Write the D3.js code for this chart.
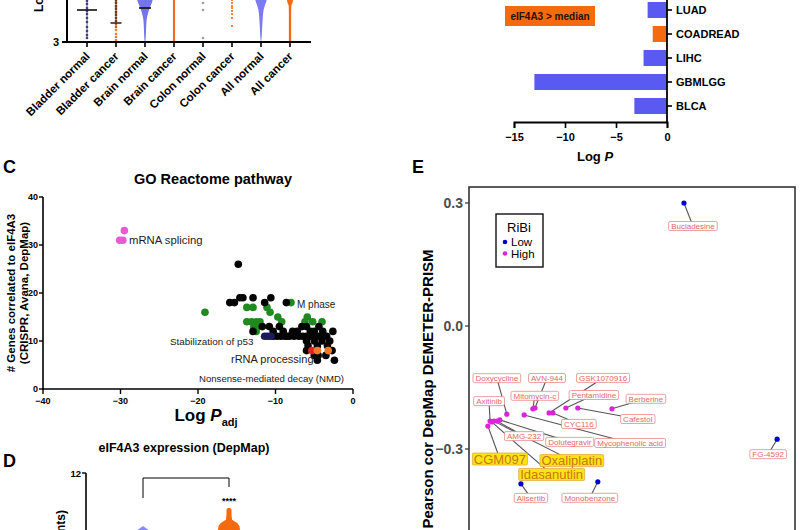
<!DOCTYPE html>
<html><head><meta charset="utf-8">
<script src="https://cdn.jsdelivr.net/npm/d3@7"></script>
<style>
body{margin:0;background:#fff}
svg{display:block}
text{font-family:"Liberation Sans",Arial,Helvetica,sans-serif}
</style></head>
<body><svg id="c" width="800" height="530"></svg>
<script>
// ---------- DATA ----------
// Panel A
const groupsA = ["Bladder normal","Bladder cancer","Brain normal","Brain cancer","Colon normal","Colon cancer","All normal","All cancer"];
const bladderNormalDots = [5.05,4.9,4.7,4.55,4.4,4.2,4.0,3.75,3.55,3.35,3.2];
const bladderCancerDarkDots = [5.1,4.95,4.8,4.65,4.5,4.35,4.2,4.05];
const bladderCancerOrangeDots = [5.0,4.75,4.45,3.9,3.75,3.6,3.4,3.25,3.1];
const brainCancerDots = [5.1,5.0,4.9,4.8,4.7,4.6,4.5,4.4,4.3,4.2,4.1,4.0,3.9,3.8,3.7,3.6,3.5,3.4,3.3,3.2,3.1];
const colonNormalDots = [4.95,4.6,3.2];
const colonCancerDots = [5.1,4.95,4.8,4.7,4.55,4.4,4.2,3.8];
const brainNormalDensity = [[5.6,1.0],[5.1,0.95],[4.85,0.75],[4.6,0.5],[4.35,0.32],[4.1,0.2],[3.6,0.13],[3.1,0.07],[3.0,0.03]];
const allNormalDensity = [[5.6,0.75],[5.1,0.7],[4.85,0.5],[4.6,0.32],[4.1,0.2],[3.6,0.13],[3.05,0.04],[3.0,0.02]];
const allCancerDensity = [[5.6,0.4],[5.1,0.38],[4.95,0.3],[4.8,0.16],[4.3,0.14],[3.6,0.14],[3.0,0.14]];
const meansA = [["Bladder normal",4.6],["Bladder cancer",3.95],["Brain normal",4.7]];

// Panel B
const categoriesB = ["LUAD","COADREAD","LIHC","GBMLGG","BLCA"];
const logPB = [-1.9,-1.4,-2.3,-13.0,-3.2];
const aboveMedianB = ["COADREAD"];
const ticksB = [-15,-10,-5,0];

// Panel C
const blackC = [[-14.8,26],[-15.9,18],[-15.3,18],[-14.6,19],[-14.2,19],[-12.9,19],[-11.4,18],[-10.6,19],[-8.6,18],
 [-12.9,12],[-11.7,13],[-10.8,13],[-10.3,12],[-9.5,13],[-9.0,12],[-8.5,11],[-7.8,12],[-7.2,12],[-6.6,13],[-6.0,13],
 [-5.5,12],[-5.0,12],[-4.4,13],[-3.9,12],[-3.4,11],[-2.6,12],
 [-10.3,11],[-9.8,11],[-9.3,11],[-8.8,11],[-8.2,11],[-7.6,11],[-7.0,11],[-6.5,11],[-6.0,11],[-5.5,11],[-5.0,11],[-4.5,11],[-4.0,11],
 [-6.0,10],[-5.0,10],[-4.0,10],[-3.0,10],[-5.8,9],[-4.6,9],[-3.3,9],[-6.0,8],[-2.7,8],[-5.0,7],[-4.5,7],[-3.5,7],[-4.6,6],[-2.4,6]];
const navyC = [[-11.4,11],[-11.0,11],[-10.6,11]];
const greenC = [[-19.1,16],[-13.7,17],[-12.9,17],[-11.1,17],[-10.7,16],[-9.7,15],[-9.2,14],[-13.7,14],[-13.1,14],[-12.5,14],
 [-12.0,14],[-12.8,13],[-12.3,13],[-5.9,15],[-6.2,14],[-5.2,14],[-4.0,14],[-8.0,18],[-12.5,12]];
const redC = [[-5.3,8]];
const orangeC = [[-4.6,8],[-3.2,8]];
const pinkC = [[-29.5,33],[-30.1,31],[-29.7,31]];
const ticksCx = [-40,-30,-20,-10,0];
const ticksCy = [0,10,20,30,40];
const pathwayLabels = ["mRNA splicing","M phase","Stabilization of p53","rRNA processing","Nonsense-mediated decay (NMD)"];

// Panel D
const groupsD = ["Normal","Cancer"];
const normalDensityD = [[6.1,0.0],[5.9,0.25],[5.67,0.5],[5.3,0.7],[5.0,0.75]];
const cancerDensityD = [[8.15,0.0],[8.05,0.18],[7.9,0.23],[7.3,0.23],[6.8,0.28],[6.45,0.75],[6.1,0.95],[5.67,1.0],[5.0,1.05]];

// Panel E
const drugsE = ["Bucladesine","FG-4592","Alisertib","Monobenzone","Doxycycline","Axitinib","Mitomycin-c","AVN-944","GSK1070916",
 "CYC116","Pentamidine","Berberine","Cafestol","Dolutegravir","Mycophenolic acid","AMG-232","CGM097","Idasanutlin","Oxaliplatin"];
const xE = [0.095,0.267,-0.206,-0.064,-0.232,-0.263,-0.184,-0.18,-0.154,-0.147,-0.123,-0.038,-0.101,-0.245,-0.2,-0.25,-0.267,-0.26,-0.256];
const yE = [0.30,-0.276,-0.385,-0.38,-0.215,-0.232,-0.202,-0.20,-0.212,-0.212,-0.20,-0.202,-0.20,-0.229,-0.217,-0.232,-0.244,-0.234,-0.232];
const ribiE = ["Low","Low","Low","Low","High","High","High","High","High","High","High","High","High","High","High","High","High","High","High"];
const highlightE = ["CGM097","Oxaliplatin","Idasanutlin"];
const ticksE = [-0.3,0.0,0.3];

// ---------- LAYOUT ----------
const svg = d3.select("#c");
const FONT = '"Liberation Sans",Arial,sans-serif';
function txt(g,x,y,s,o={}){
  const t=g.append("text").attr("x",x).attr("y",y).text(s)
   .attr("font-size",o.size||11).attr("font-weight",o.weight||"normal")
   .attr("fill",o.fill||"#000").attr("text-anchor",o.anchor||"start");
  if(o.rot!==undefined) t.attr("transform",`rotate(${o.rot},${x},${y})`);
  if(o.style) t.attr("font-style",o.style);
  return t;
}

// ===== Panel A =====
(function(){
  const g = svg.append("g");
  const x = d3.scalePoint().domain(groupsA).range([87,290]);
  const y = d3.scaleLinear().domain([3,8]).range([42,-58]);
  const w = d3.scaleLinear().domain([0,1]).range([0,8]);
  const area = cx => d3.area().curve(d3.curveMonotoneY).y(d=>y(d[0])).x0(d=>cx-w(d[1])).x1(d=>cx+w(d[1]));
  g.append("path").datum(brainNormalDensity).attr("d",area(x("Brain normal"))).attr("fill","#7474f0");
  g.append("path").datum(allNormalDensity).attr("d",area(x("All normal"))).attr("fill","#7a7af2");
  g.append("path").datum(allCancerDensity).attr("d",area(x("All cancer"))).attr("fill","#f26a12");
  const dots=(arr,grp,col,r)=>g.selectAll(null).data(arr).enter().append("circle")
     .attr("cx",x(grp)).attr("cy",d=>y(d)).attr("r",r||1.3).attr("fill",col);
  dots(bladderNormalDots,"Bladder normal","#40407e");
  dots(bladderCancerOrangeDots,"Bladder cancer","#f07a30");
  dots(bladderCancerDarkDots,"Bladder cancer","#6b3b1f");
  dots(brainCancerDots,"Brain cancer","#f0691e",1.2);
  dots(colonNormalDots,"Colon normal","#a0a0a0");
  dots(colonCancerDots,"Colon cancer","#f0691e",1.1);
  g.append("line").attr("x1",x("Bladder normal")).attr("x2",x("Bladder normal")).attr("y1",y(5.1)).attr("y2",y(3.2)).attr("stroke","#40407e").attr("stroke-width",0.8);
  g.append("line").attr("x1",x("Bladder cancer")).attr("x2",x("Bladder cancer")).attr("y1",y(5.1)).attr("y2",y(3.7)).attr("stroke","#6b3b1f").attr("stroke-width",0.8);
  const mw={"Bladder normal":10,"Bladder cancer":5.5,"Brain normal":6};
  const mc={"Bladder normal":"#111","Bladder cancer":"#4a2410","Brain normal":"#111"};
  meansA.forEach(([grp,v])=>{
    g.append("line").attr("x1",x(grp)-mw[grp]).attr("x2",x(grp)+mw[grp]).attr("y1",y(v)).attr("y2",y(v)).attr("stroke",mc[grp]).attr("stroke-width",1.6);
  });
  // axes
  g.append("line").attr("x1",67).attr("x2",67).attr("y1",-5).attr("y2",42).attr("stroke","#000").attr("stroke-width",2);
  g.append("line").attr("x1",66).attr("x2",311).attr("y1",42).attr("y2",42).attr("stroke","#000").attr("stroke-width",2);
  g.append("line").attr("x1",62).attr("x2",67).attr("y1",y(3)).attr("y2",y(3)).attr("stroke","#000").attr("stroke-width",2);
  txt(g,59,y(3)+4,"3",{size:11,weight:"bold",anchor:"end"});
  txt(g,43,12,"Log2 (TPM+1)",{size:12,weight:"bold",rot:-90});
  groupsA.forEach(c=>{
    g.append("line").attr("x1",x(c)).attr("x2",x(c)).attr("y1",42).attr("y2",47).attr("stroke","#000").attr("stroke-width",1.6);
    txt(g,x(c)+3.5,57,c,{size:11.5,weight:"bold",anchor:"end",rot:-45});
  });
})();

// ===== Panel B =====
(function(){
  const g = svg.append("g");
  const x = d3.scaleLinear().domain([-15,0]).range([514,667]);
  const y = d3.scalePoint().domain(categoriesB).range([-2,118]).padding(0.5);
  const bh=16;
  g.selectAll(null).data(categoriesB).enter().append("rect")
    .attr("x",(d,i)=>x(logPB[i])).attr("width",(d,i)=>x(0)-x(logPB[i]))
    .attr("y",d=>y(d)-bh/2).attr("height",bh)
    .attr("fill",d=>aboveMedianB.includes(d)?"#f5690f":"#5a5af2");
  const ax = g.append("g").attr("transform","translate(0,122)")
    .call(d3.axisBottom(x).tickValues(ticksB).tickSizeOuter(0).tickSize(6));
  ax.select(".domain").attr("stroke-width",1.8);
  ax.selectAll(".tick line").attr("stroke-width",1.6);
  ax.selectAll("text").attr("font-size",11).attr("font-weight","bold").attr("font-family",FONT).attr("fill","#000").attr("dy","0.95em");
  g.append("line").attr("x1",667).attr("x2",667).attr("y1",-5).attr("y2",123).attr("stroke","#000").attr("stroke-width",1.8);
  categoriesB.forEach(c=>{
    g.append("line").attr("x1",667).attr("x2",672).attr("y1",y(c)).attr("y2",y(c)).attr("stroke","#000").attr("stroke-width",1.6);
    txt(g,676,y(c)+4,c,{size:11,weight:"bold"});
  });
  g.append("rect").attr("x",505).attr("y",6).attr("width",90).attr("height",20).attr("fill","#f5690f");
  txt(g,550,20,"eIF4A3 > median",{size:10,weight:"bold",anchor:"middle",fill:"#2a1205"});
  const t=g.append("text").attr("x",595).attr("y",161).attr("text-anchor","middle").attr("font-size",13).attr("font-weight","bold");
  t.append("tspan").text("Log ");
  t.append("tspan").attr("font-style","italic").text("P");
})();

// ===== Panel C =====
(function(){
  const g = svg.append("g");
  const x = d3.scaleLinear().domain([-40,0]).range([43,353]);
  const y = d3.scaleLinear().domain([0,40]).range([389,197]);
  txt(g,3,173,"C",{size:18,weight:"bold"});
  txt(g,213,184,"GO Reactome pathway",{size:14.5,weight:"bold",anchor:"middle"});
  const pts=(arr,col)=>g.selectAll(null).data(arr).enter().append("circle")
    .attr("cx",d=>x(d[0])).attr("cy",d=>y(d[1])).attr("r",3.8).attr("fill",col);
  pts(greenC,"#1f8a1f");
  pts(blackC,"#050505");
  pts(navyC,"#1c1c5c");
  pts(pinkC,"#e85ad2");
  pts(redC,"#e3241c");
  pts(orangeC,"#f07a2a");
  // axes
  g.append("line").attr("x1",43).attr("x2",43).attr("y1",197).attr("y2",390).attr("stroke","#000").attr("stroke-width",1.6);
  g.append("line").attr("x1",42).attr("x2",353).attr("y1",389).attr("y2",389).attr("stroke","#000").attr("stroke-width",1.6);
  ticksCy.forEach(v=>{
    g.append("line").attr("x1",39).attr("x2",43).attr("y1",y(v)).attr("y2",y(v)).attr("stroke","#000").attr("stroke-width",1.4);
    txt(g,38,y(v)+3,String(v),{size:9,weight:"bold",anchor:"end"});
  });
  ticksCx.forEach(v=>{
    g.append("line").attr("x1",x(v)).attr("x2",x(v)).attr("y1",389).attr("y2",394).attr("stroke","#000").attr("stroke-width",1.4);
    txt(g,x(v),404,d3.format("d")(v),{size:9,weight:"bold",anchor:"middle"});
  });
  const xl=g.append("text").attr("x",206).attr("y",421).attr("text-anchor","middle").attr("font-size",17).attr("font-weight","bold");
  xl.append("tspan").text("Log ");
  xl.append("tspan").attr("font-style","italic").text("P");
  xl.append("tspan").attr("font-size",11).attr("dy",5).text("adj");
  txt(g,15,293,"# Genes correlated to eIF4A3",{size:11.5,weight:"bold",anchor:"middle",rot:-90});
  txt(g,28,293,"(CRISPR, Avana, DepMap)",{size:11.5,weight:"bold",anchor:"middle",rot:-90});
  // pathway labels
  txt(g,129,244,pathwayLabels[0],{size:11.3,fill:"#222"});
  txt(g,297,308,pathwayLabels[1],{size:10,fill:"#222"});
  txt(g,170,345,pathwayLabels[2],{size:9.9,fill:"#222"});
  txt(g,231,363,pathwayLabels[3],{size:11,fill:"#222"});
  txt(g,199,382,pathwayLabels[4],{size:9.6,fill:"#222"});
})();

// ===== Panel D =====
(function(){
  const g = svg.append("g");
  const x = d3.scalePoint().domain(groupsD).range([143,229]);
  const y = d3.scaleLinear().domain([0,12]).range([581,473]);
  const w = d3.scaleLinear().domain([0,1]).range([0,11]);
  txt(g,3,467,"D",{size:18,weight:"bold"});
  txt(g,184,452,"eIF4A3 expression (DepMap)",{size:12.5,weight:"bold",anchor:"middle"});
  const area = cx => d3.area().curve(d3.curveLinear).y(d=>y(d[0])).x0(d=>cx-w(d[1])).x1(d=>cx+w(d[1]));
  g.append("path").datum(normalDensityD).attr("d",area(x("Normal"))).attr("fill","#8a8af2");
  g.append("path").datum(cancerDensityD).attr("d",area(x("Cancer"))).attr("fill","#f5690f");
  g.append("line").attr("x1",86).attr("x2",86).attr("y1",473).attr("y2",535).attr("stroke","#000").attr("stroke-width",1.6);
  g.append("line").attr("x1",82).attr("x2",86).attr("y1",y(12)).attr("y2",y(12)).attr("stroke","#000").attr("stroke-width",1.4);
  txt(g,81,y(12)+4,"12",{size:9.5,weight:"bold",anchor:"end"});
  g.append("path").attr("d",`M${x("Normal")},498V478H${x("Cancer")}V487`).attr("fill","none").attr("stroke","#000").attr("stroke-width",1);
  txt(g,x("Cancer"),504,"****",{size:9,anchor:"middle",weight:"bold"});
  txt(g,65,510,"eIF4A3 (log2 TPM counts)",{size:12,weight:"bold",anchor:"end",rot:-90});
})();

// ===== Panel E =====
(function(){
  const g = svg.append("g");
  const x = d3.scaleLinear().domain([-0.3,0.3]).range([470,795]);
  const y = d3.scaleLinear().domain([-0.3,0.3]).range([449,203]);
  txt(g,412,173,"E",{size:18,weight:"bold"});
  g.append("rect").attr("x",469).attr("y",187).attr("width",326).attr("height",360).attr("fill","none").attr("stroke","#333").attr("stroke-width",1.6);
  ticksE.forEach(v=>{
    g.append("line").attr("x1",465).attr("x2",469).attr("y1",y(v)).attr("y2",y(v)).attr("stroke","#333").attr("stroke-width",1.2);
    txt(g,463,y(v)+5,d3.format(".1f")(v),{size:14,weight:"bold",anchor:"end",fill:"#4d4d4d"});
  });
  txt(g,433,389,"Pearson cor DepMap DEMETER-PRISM",{size:15,weight:"bold",anchor:"middle",rot:-90});
  // legend
  g.append("rect").attr("x",496).attr("y",214).attr("width",47).attr("height",53).attr("fill","#fff").attr("stroke","#111").attr("stroke-width",1.4);
  txt(g,519,232,"RiBi",{size:13,anchor:"middle"});
  g.append("circle").attr("cx",505).attr("cy",242).attr("r",2.3).attr("fill","#0000cc");
  txt(g,511,246,"Low",{size:11.5});
  g.append("circle").attr("cx",505).attr("cy",253.5).attr("r",2.3).attr("fill","#dd22dd");
  txt(g,511,258,"High",{size:11.5});
  // label offsets (layout, px relative to point)
  const offs = {"Bucladesine":[9,23],"FG-4592":[-9,15],"Alisertib":[10,14],"Monobenzone":[-8,16],"Doxycycline":[-10,-36],
   "Axitinib":[-1,-20],"Mitomycin-c":[2,-13],"AVN-944":[12,-30],"GSK1070916":[54,-35],"CYC116":[26,11],"Pentamidine":[28,-13],
   "Berberine":[34,-10],"Cafestol":[60,11],"Dolutegravir":[70,22],"Mycophenolic acid":[106,28],"AMG-232":[27,15],
   "CGM097":[12,33],"Idasanutlin":[60,52.5],"Oxaliplatin":[78,39.5]};
  const data = drugsE.map((d,i)=>({name:d,px:x(xE[i]),py:y(yE[i]),ribi:ribiE[i]}));
  // leader lines
  data.forEach(d=>{
    const o=offs[d.name];
    g.append("line").attr("x1",d.px).attr("y1",d.py).attr("x2",d.px+o[0]).attr("y2",d.py+o[1]).attr("stroke","#555").attr("stroke-width",1.1);
  });
  g.selectAll(null).data(data).enter().append("circle").attr("cx",d=>d.px).attr("cy",d=>d.py).attr("r",2.6)
    .attr("fill",d=>d.ribi==="Low"?"#0000cc":"#dd22dd");
  data.forEach(d=>{
    const o=offs[d.name], cx=d.px+o[0], cy=d.py+o[1];
    const big=highlightE.includes(d.name);
    const fs=big?13:8;
    const lg=g.append("g");
    const r=lg.append("rect");
    const t=lg.append("text").attr("x",cx).attr("y",cy+fs*0.36).attr("text-anchor","middle").attr("font-size",fs)
      .attr("fill",big?"#c87818":"#e06a6a").text(d.name);
    const tw=t.node().getComputedTextLength();
    const pw=big?1.5:2.5, ph=big?12:9;
    r.attr("x",cx-tw/2-pw).attr("y",cy-ph/2).attr("width",tw+2*pw).attr("height",ph).attr("rx",big?1:1.5)
      .attr("fill",big?"#ffe414":"#fff").attr("stroke",big?"#e0a848":"#e58a8a").attr("stroke-width",0.8);
  });
})();
</script>
</body></html>
